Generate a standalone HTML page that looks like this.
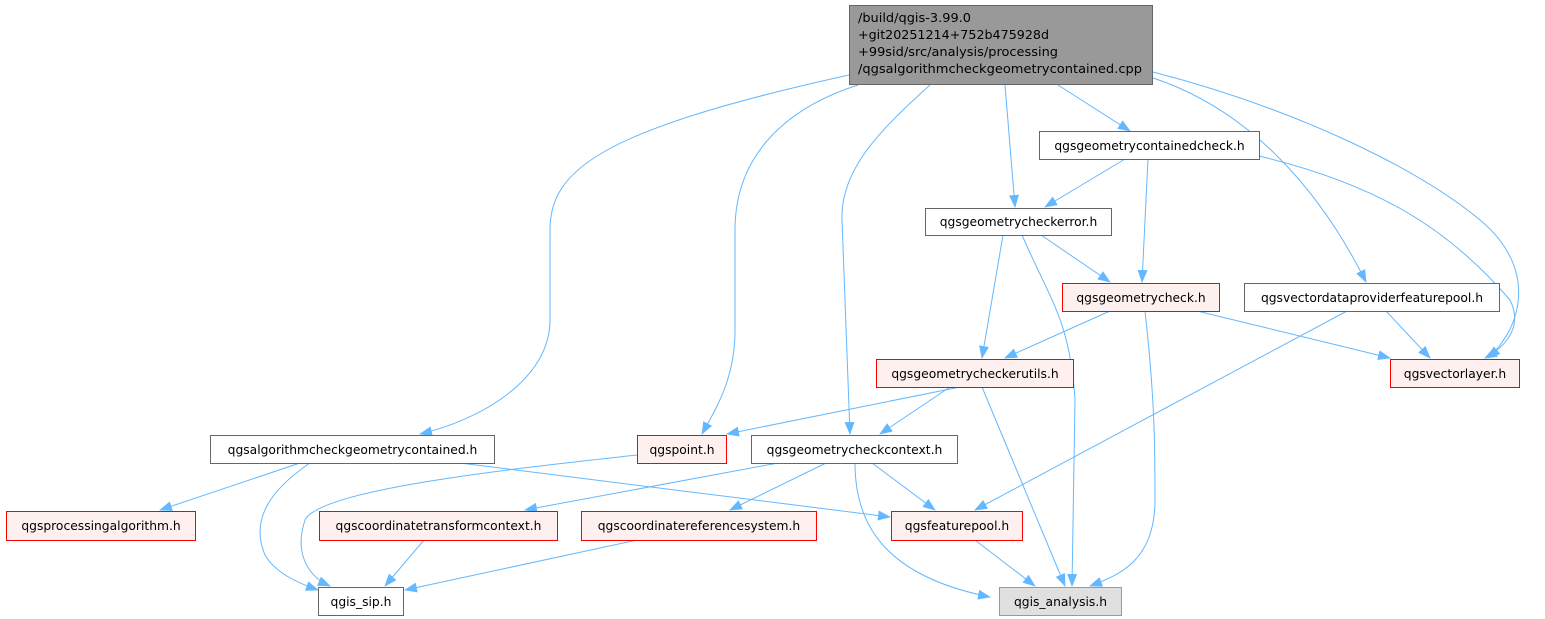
<!DOCTYPE html>
<html><head><meta charset="utf-8"><style>
html,body{margin:0;padding:0;background:#fff;}
svg{display:block;}
text{font-family:"DejaVu Sans","Liberation Sans",sans-serif;font-size:12.3px;fill:#000;}
</style></head><body>
<svg width="1545" height="619" viewBox="0 0 1545 619" xmlns="http://www.w3.org/2000/svg">
<defs><marker id="a" markerWidth="13" markerHeight="10" refX="12" refY="5" orient="auto" markerUnits="userSpaceOnUse"><path d="M0,0 L13,5 L0,10 Z" fill="#63b8ff"/></marker></defs>
<g fill="none" stroke="#63b8ff" stroke-width="1" marker-end="url(#a)">
<path d="M1058,85 L1130,131"/>
<path d="M1005,85 L1015,207"/>
<path d="M1153,78 C1250,110 1320,190 1366,282"/>
<path d="M1153,72 C1300,110 1420,170 1480,220 C1540,270 1520,330 1488,358"/>
<path d="M930,85 C880,130 840,170 842,220 L850,434"/>
<path d="M858,85 C780,110 735,160 735,230 L735,330 C735,380 715,410 702,434"/>
<path d="M849,75 C600,130 550,170 550,230 L550,320 C550,380 480,420 420,434"/>
<path d="M1125,159 L1045,207"/>
<path d="M1148,159 L1142,282"/>
<path d="M1259,156 C1380,185 1450,230 1510,300 C1525,330 1500,350 1485,358"/>
<path d="M1041,235 L1110,282"/>
<path d="M1003,235 L982,358"/>
<path d="M1022,235 C1050,300 1070,320 1075,400 L1072,586"/>
<path d="M1110,311 L1005,358"/>
<path d="M1197,311 L1390,358"/>
<path d="M1145,311 C1155,400 1155,450 1155,500 C1155,560 1120,575 1090,586"/>
<path d="M1386,311 L1430,358"/>
<path d="M1347,311 L975,510"/>
<path d="M960,387 L727,434"/>
<path d="M950,387 L880,434"/>
<path d="M982,387 L1065,586"/>
<path d="M300,463 L160,510"/>
<path d="M310,463 C270,490 250,520 265,555 C275,572 295,582 318,590"/>
<path d="M460,463 L890,517"/>
<path d="M637,455 C500,470 320,490 305,520 C295,550 305,575 330,586"/>
<path d="M778,463 L525,510"/>
<path d="M826,463 L730,510"/>
<path d="M872,463 L935,510"/>
<path d="M855,463 C855,520 880,575 990,597"/>
<path d="M424,540 L385,586"/>
<path d="M637,540 L405,590"/>
<path d="M975,540 L1035,586"/>
</g>
<g stroke-width="1">
<rect x="849.5" y="5.5" width="303" height="79" fill="#999" stroke="#666"/>
<rect x="1039.5" y="131.5" width="220" height="28" fill="#fff" stroke="#666"/>
<rect x="925.5" y="208.5" width="186" height="27" fill="#fff" stroke="#666"/>
<rect x="1062.5" y="283.5" width="157" height="28" fill="#fff0f0" stroke="#f00"/>
<rect x="1244.5" y="283.5" width="255" height="28" fill="#fff" stroke="#666"/>
<rect x="876.5" y="359.5" width="197" height="28" fill="#fff0f0" stroke="#f00"/>
<rect x="1390.5" y="359.5" width="129" height="28" fill="#fff0f0" stroke="#f00"/>
<rect x="210.5" y="435.5" width="284" height="28" fill="#fff" stroke="#666"/>
<rect x="637.5" y="435.5" width="89" height="28" fill="#fff0f0" stroke="#f00"/>
<rect x="751.5" y="435.5" width="206" height="28" fill="#fff" stroke="#666"/>
<rect x="6.5" y="511.5" width="189" height="29" fill="#fff0f0" stroke="#f00"/>
<rect x="319.5" y="511.5" width="238" height="29" fill="#fff0f0" stroke="#f00"/>
<rect x="581.5" y="511.5" width="235" height="29" fill="#fff0f0" stroke="#f00"/>
<rect x="891.5" y="511.5" width="131" height="29" fill="#fff0f0" stroke="#f00"/>
<rect x="318.5" y="587.5" width="85" height="28" fill="#fff" stroke="#666"/>
<rect x="999.5" y="587.5" width="122" height="28" fill="#e0e0e0" stroke="#999"/>
</g>
<text x="858" y="22" textLength="113" lengthAdjust="spacingAndGlyphs">/build/qgis-3.99.0</text>
<text x="858" y="39" textLength="191" lengthAdjust="spacingAndGlyphs">+git20251214+752b475928d</text>
<text x="858" y="56" textLength="200" lengthAdjust="spacingAndGlyphs">+99sid/src/analysis/processing</text>
<text x="858" y="73" textLength="284" lengthAdjust="spacingAndGlyphs">/qgsalgorithmcheckgeometrycontained.cpp</text>
<g text-anchor="middle">
<text x="1149.5" y="150">qgsgeometrycontainedcheck.h</text>
<text x="1018.5" y="226">qgsgeometrycheckerror.h</text>
<text x="1141" y="302">qgsgeometrycheck.h</text>
<text x="1372" y="302">qgsvectordataproviderfeaturepool.h</text>
<text x="975" y="378">qgsgeometrycheckerutils.h</text>
<text x="1455" y="378">qgsvectorlayer.h</text>
<text x="352.5" y="454">qgsalgorithmcheckgeometrycontained.h</text>
<text x="682" y="454">qgspoint.h</text>
<text x="854.5" y="454">qgsgeometrycheckcontext.h</text>
<text x="101" y="530">qgsprocessingalgorithm.h</text>
<text x="438.5" y="530">qgscoordinatetransformcontext.h</text>
<text x="699" y="530">qgscoordinatereferencesystem.h</text>
<text x="957" y="530">qgsfeaturepool.h</text>
<text x="361" y="606">qgis_sip.h</text>
<text x="1060.5" y="606">qgis_analysis.h</text>
</g>
</svg>
</body></html>
